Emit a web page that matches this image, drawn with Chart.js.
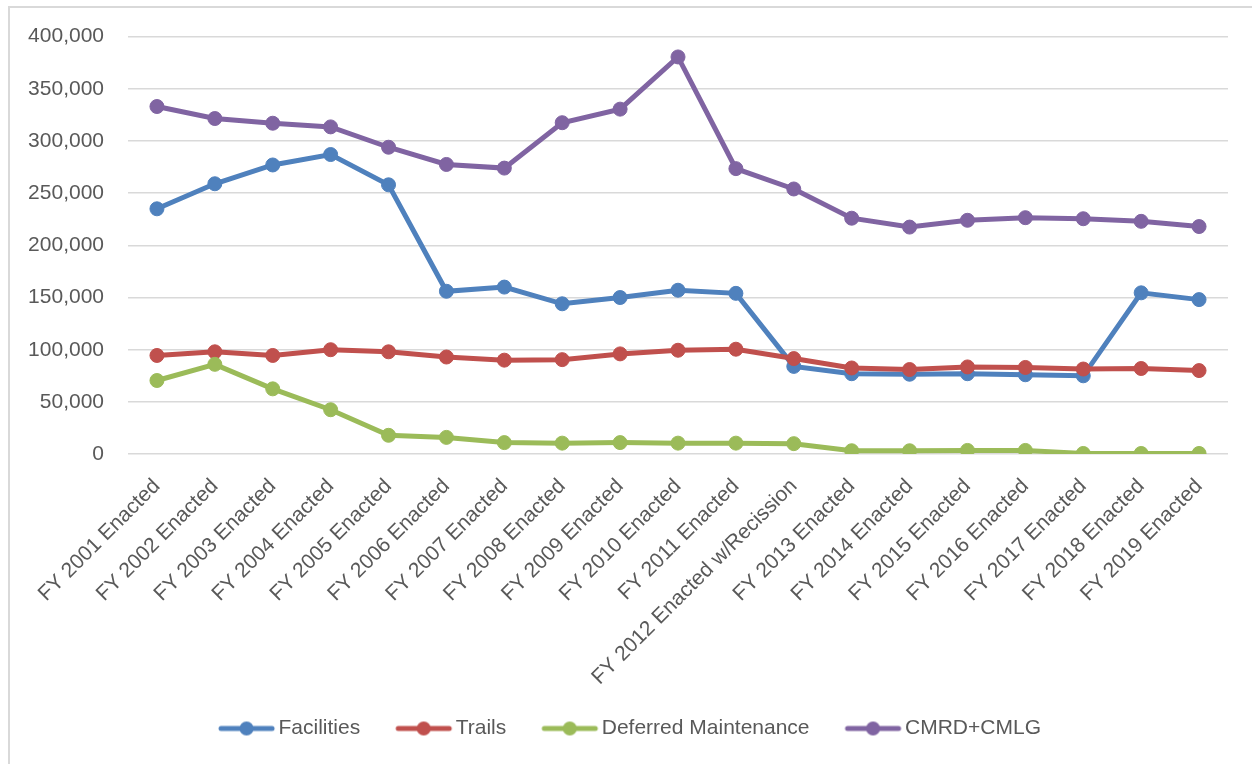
<!DOCTYPE html>
<html>
<head>
<meta charset="utf-8">
<script src="https://cdn.jsdelivr.net/npm/chart.js@4.4.0/dist/chart.umd.min.js"></script>
<style>
  html, body { margin: 0; padding: 0; background: #fff; }
  body { width: 1252px; height: 764px; position: relative; overflow: hidden; }
  #frame { position: absolute; left: 8px; top: 6px; width: 1400px; height: 900px;
           border-top: 2px solid #D9D9D9; border-left: 2px solid #D9D9D9; }
  #wrap { position: absolute; left: 0; top: 0; width: 1252px; height: 764px; }
</style>
</head>
<body>
<div id="frame"></div>
<div id="wrap"><canvas id="fundingChart"></canvas></div>
<script>
const years = [
    'FY 2001 Enacted', 'FY 2002 Enacted', 'FY 2003 Enacted', 'FY 2004 Enacted',
    'FY 2005 Enacted', 'FY 2006 Enacted', 'FY 2007 Enacted', 'FY 2008 Enacted',
    'FY 2009 Enacted', 'FY 2010 Enacted', 'FY 2011 Enacted', 'FY 2012 Enacted w/Recission',
    'FY 2013 Enacted', 'FY 2014 Enacted', 'FY 2015 Enacted', 'FY 2016 Enacted',
    'FY 2017 Enacted', 'FY 2018 Enacted', 'FY 2019 Enacted'
];
const facilities = [235000, 259000, 277000, 287000, 258000, 156000, 160000, 144000, 150000, 157000,
    154000, 84000, 77000, 76500, 77000, 76000, 75000, 154500, 148000];
const trails = [94500, 98000, 94500, 100000, 98000, 93000, 90000, 90500, 96000, 99500,
    100500, 91500, 82500, 81000, 83500, 83000, 81500, 82000, 80000];
const deferredMaintenance = [70500, 86000, 62500, 42500, 18000, 16000, 11000, 10500, 11000, 10500,
    10500, 10000, 3200, 3200, 3500, 3500, 600, 600, 600];
const cmrdCmlg = [333000, 321500, 317000, 313500, 294000, 277500, 274000, 317500, 330500, 380500,
    273500, 254000, 226000, 217500, 224000, 226500, 225500, 223000, 218000];
const yTicks = [0, 50000, 100000, 150000, 200000, 250000, 300000, 350000, 400000];

const seriesNames = ['Facilities', 'Trails', 'Deferred Maintenance', 'CMRD+CMLG'];
const seriesColors = ['#4F81BD', '#C0504D', '#9BBB59', '#8064A2'];

// legend icon: short line with a dot, drawn at the right of a wider canvas
// so the blank left part acts as spacing between legend items
function legendIcon(color) {
    const c = document.createElement('canvas');
    c.width = 93;
    c.height = 16;
    const g = c.getContext('2d');
    g.strokeStyle = color;
    g.lineWidth = 5;
    g.lineCap = 'round';
    g.beginPath();
    g.moveTo(38, 8);
    g.lineTo(89, 8);
    g.stroke();
    g.fillStyle = color;
    g.beginPath();
    g.arc(63.5, 8, 7, 0, Math.PI * 2);
    g.fill();
    return c;
}
const icons = seriesColors.map(legendIcon);

const seriesData = [facilities, trails, deferredMaintenance, cmrdCmlg];
const datasets = seriesData.map((vals, i) => ({
    label: seriesNames[i],
    data: vals,
    borderColor: seriesColors[i],
    backgroundColor: seriesColors[i],
    pointBackgroundColor: seriesColors[i],
    pointBorderColor: seriesColors[i],
    borderWidth: 5,
    pointRadius: 7,
    pointBorderWidth: 1,
    tension: 0,
    fill: false,
    order: 4 - i
}));

Chart.defaults.font.family = "'Liberation Sans', Arial, sans-serif";
Chart.defaults.color = '#595959';

const ctx = document.getElementById('fundingChart').getContext('2d');
new Chart(ctx, {
    type: 'line',
    data: { labels: years, datasets: datasets },
    options: {
        responsive: true,
        maintainAspectRatio: false,
        animation: false,
        layout: { padding: { left: 4, right: 24, top: 35, bottom: 15 } },
        plugins: {
            tooltip: { enabled: false },
            legend: {
                position: 'bottom',
                labels: {
                    font: { size: 21 },
                    color: '#595959',
                    usePointStyle: true,
                    pointStyleWidth: 77,
                    padding: 8,
                    generateLabels: (chart) => chart.data.datasets.map((ds, i) => ({
                        text: ds.label,
                        fontColor: '#595959',
                        pointStyle: icons[i],
                        datasetIndex: i,
                        hidden: false,
                        lineWidth: 0
                    }))
                }
            }
        },
        scales: {
            x: {
                offset: true,
                grid: { display: false, drawTicks: false, tickLength: 0 },
                border: { display: false },
                ticks: {
                    font: { size: 21 },
                    maxRotation: 45,
                    minRotation: 45,
                    autoSkip: false,
                    padding: 20
                }
            },
            y: {
                min: 0,
                max: 400000,
                afterBuildTicks: (axis) => { axis.ticks = yTicks.map(v => ({ value: v })); },
                afterFit: (axis) => { axis.width = 124; },
                grid: { color: '#D9D9D9', lineWidth: 1.5, drawTicks: false, tickLength: 0 },
                border: { display: false },
                ticks: {
                    font: { size: 21 },
                    padding: 24,
                    callback: (v) => v.toLocaleString('en-US')
                }
            }
        }
    }
});
</script>
</body>
</html>
